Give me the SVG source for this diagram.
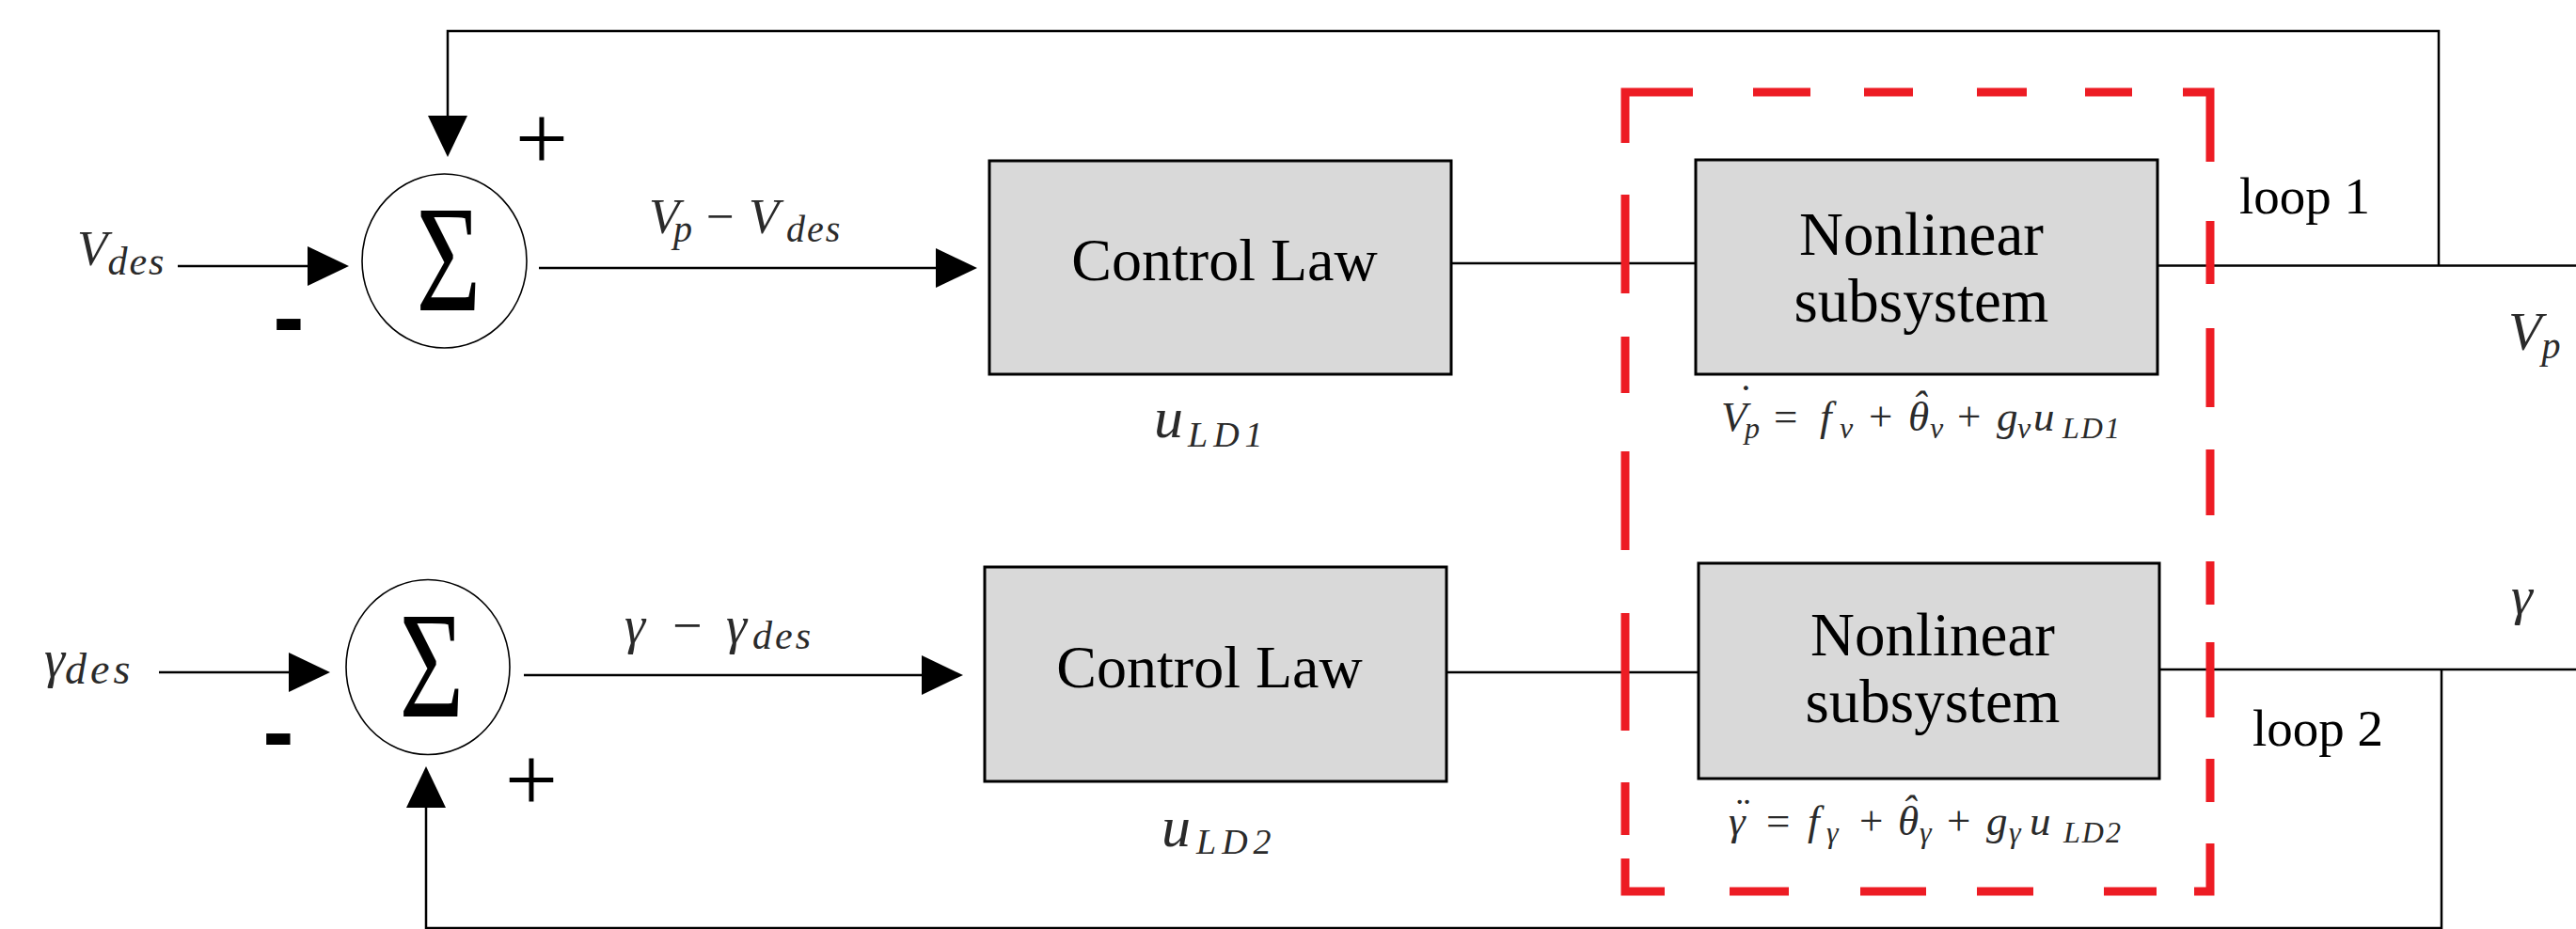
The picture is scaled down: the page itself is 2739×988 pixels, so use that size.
<svg xmlns="http://www.w3.org/2000/svg" width="2739" height="988" viewBox="0 0 2739 988" font-family="'Liberation Serif', 'Times New Roman', serif">
  <style>
    .wire { fill: none; stroke: #000; stroke-width: 2.5; }
    .block { fill: #d9d9d9; stroke: #000; stroke-width: 3; }
    .junction { fill: #fff; stroke: #000; stroke-width: 1.6; }
    .boundary { fill: none; stroke: #ed1c24; stroke-width: 9; }
    .label { font-family: "Liberation Serif", "Times New Roman", serif; fill: #000; }
    .math { font-family: "Liberation Serif", "Times New Roman", serif; font-style: italic; fill: #2a2a2a; }
    .up { font-style: normal; }
    .sign { font-family: "Liberation Sans", Arial, sans-serif; font-weight: bold; fill: #000; }
    .glyph { font-family: "Liberation Serif", "Times New Roman", serif; fill: #000; }
  </style>
  <defs>
    <marker id="head" viewBox="0 0 44 42" refX="0" refY="21" markerWidth="44" markerHeight="42" markerUnits="userSpaceOnUse" orient="auto">
      <path d="M0,0 L44,21 L0,42 Z" fill="#000"/>
    </marker>
  </defs>

  <rect width="2739" height="988" fill="#fff"/>

  <!-- connectors -->
  <g id="connectors">
    <!-- loop 1 -->
    <path class="wire" d="M189,283 H327" marker-end="url(#head)"/>
    <path class="wire" d="M573,285 H995" marker-end="url(#head)"/>
    <path class="wire" d="M1543,280 H1803"/>
    <path class="wire" d="M2294,282.5 H2739"/>
    <path class="wire" d="M2593,282.5 V33 H476 V123" marker-end="url(#head)"/>
    <!-- loop 2 -->
    <path class="wire" d="M169,715 H307" marker-end="url(#head)"/>
    <path class="wire" d="M557,718 H980" marker-end="url(#head)"/>
    <path class="wire" d="M1538,715 H1806"/>
    <path class="wire" d="M2296,712 H2739"/>
    <path class="wire" d="M2596,712 V987 H453 V859" marker-end="url(#head)"/>
  </g>

  <!-- summing junction, velocity loop -->
  <g id="sum1">
    <ellipse class="junction" cx="472.5" cy="277.5" rx="87.5" ry="92.5"/>
    <text class="glyph" font-size="162" text-anchor="middle" transform="translate(477,330) scale(0.73,1)">Σ</text>
    <text class="glyph" x="576" y="181" font-size="100" text-anchor="middle">+</text>
    <text class="sign" x="307" y="371" font-size="100" text-anchor="middle">-</text>
  </g>

  <!-- summing junction, flight-path loop -->
  <g id="sum2">
    <ellipse class="junction" cx="455" cy="709.5" rx="87" ry="93"/>
    <text class="glyph" font-size="162" text-anchor="middle" transform="translate(459,762) scale(0.73,1)">Σ</text>
    <text class="glyph" x="565" y="863" font-size="100" text-anchor="middle">+</text>
    <text class="sign" x="296" y="812" font-size="100" text-anchor="middle">-</text>
  </g>

  <g id="control-law-1">
    <rect class="block" x="1052" y="171" width="491" height="227"/>
    <text class="label" x="1302" y="298" font-size="64" text-anchor="middle">Control Law</text>
  </g>

  <g id="control-law-2">
    <rect class="block" x="1047" y="603" width="491" height="228"/>
    <text class="label" x="1286" y="731" font-size="64" text-anchor="middle">Control Law</text>
  </g>

  <g id="nonlinear-1">
    <rect class="block" x="1803" y="170" width="491" height="228"/>
    <text class="label" x="2043" y="271" font-size="65" text-anchor="middle">Nonlinear</text>
    <text class="label" x="2043" y="342" font-size="65" text-anchor="middle">subsystem</text>
  </g>

  <g id="nonlinear-2">
    <rect class="block" x="1806" y="599" width="490" height="229"/>
    <text class="label" x="2055" y="697" font-size="65" text-anchor="middle">Nonlinear</text>
    <text class="label" x="2055" y="768" font-size="65" text-anchor="middle">subsystem</text>
  </g>

  <!-- plant boundary, drawn dash by dash -->
  <g id="plant-boundary">
    <path class="boundary" d="M1728,152 V98 H1800 M1864,98 H1925 M1982,98 H2034 M2102,98 H2155 M2217,98 H2267 M2321,98 H2350 V172
      M2350,235 V302 M2350,349 V433 M2350,478 V548 M2350,597 V643 M2350,683 V763 M2350,807 V853 M2350,897 V948 H2333
      M2293,948 H2237 M2162,948 H2102 M2048,948 H1978 M1902,948 H1839 M1770,948 H1728 V913
      M1728,888 V832 M1728,777 V652 M1728,585 V480 M1728,418 V358 M1728,312 V207"/>
  </g>

  <!-- signal labels -->
  <g id="labels">
    <text class="math" x="82" y="282" font-size="53">V<tspan font-size="42" dy="10" letter-spacing="2">des</tspan></text>
    <text class="math" font-size="53" y="248"><tspan x="690">V</tspan><tspan x="716" font-size="40" dy="9">p</tspan><tspan class="up" x="751" dy="-9">−</tspan><tspan x="796">V</tspan><tspan x="836" font-size="40" dy="9" letter-spacing="2">des</tspan></text>
    <text class="math" x="47" y="720" font-size="56">γ<tspan font-size="46" dy="7" letter-spacing="4">des</tspan></text>
    <text class="math" font-size="56" y="684"><tspan x="664">γ</tspan><tspan class="up" x="715">−</tspan><tspan x="772">γ</tspan><tspan x="800" font-size="42" dy="6" letter-spacing="3">des</tspan></text>

    <text class="math" x="1227" y="465" font-size="62">u<tspan x="1263" y="475" font-size="38" letter-spacing="6">LD1</tspan></text>
    <text class="math" x="1235" y="900" font-size="62">u<tspan x="1272" y="908" font-size="38" letter-spacing="6">LD2</tspan></text>

    <!-- plant dynamics, loop 1 -->
    <text class="math" font-size="45" y="458"><tspan x="1830">V</tspan><tspan x="1855" font-size="32" dy="8">p</tspan><tspan class="up" x="1886" dy="-8">=</tspan><tspan x="1935">f</tspan><tspan x="1956" font-size="32" dy="8">v</tspan><tspan class="up" x="1987" dy="-8">+</tspan><tspan x="2029">θ</tspan><tspan x="2052" font-size="32" dy="8">v</tspan><tspan class="up" x="2081" dy="-8">+</tspan><tspan x="2123">g</tspan><tspan x="2145" font-size="32" dy="8">v</tspan><tspan x="2162" dy="-8">u</tspan><tspan x="2193" font-size="32" dy="8" letter-spacing="2">LD1</tspan><tspan x="1846" y="440">˙</tspan><tspan x="2033" y="446">ˆ</tspan></text>

    <!-- plant dynamics, loop 2 -->
    <text class="math" font-size="45" y="888"><tspan x="1838">γ</tspan><tspan class="up" x="1878">=</tspan><tspan x="1922">f</tspan><tspan x="1942" font-size="32" dy="8">γ</tspan><tspan class="up" x="1977" dy="-8">+</tspan><tspan x="2018">θ</tspan><tspan x="2041" font-size="32" dy="8">γ</tspan><tspan class="up" x="2070" dy="-8">+</tspan><tspan x="2112">g</tspan><tspan x="2136" font-size="32" dy="8">γ</tspan><tspan x="2158" dy="-8">u</tspan><tspan x="2194" font-size="32" dy="8" letter-spacing="2">LD2</tspan><tspan x="1843" y="880">¨</tspan><tspan x="2022" y="876">ˆ</tspan></text>

    <text class="label" x="2381" y="227" font-size="55">loop 1</text>
    <text class="label" x="2395" y="793" font-size="55">loop 2</text>
    <text class="math" x="2667" y="372" font-size="58">V<tspan font-size="40" dy="9">p</tspan></text>
    <text class="math" x="2670" y="653" font-size="58">γ</text>
  </g>
</svg>
